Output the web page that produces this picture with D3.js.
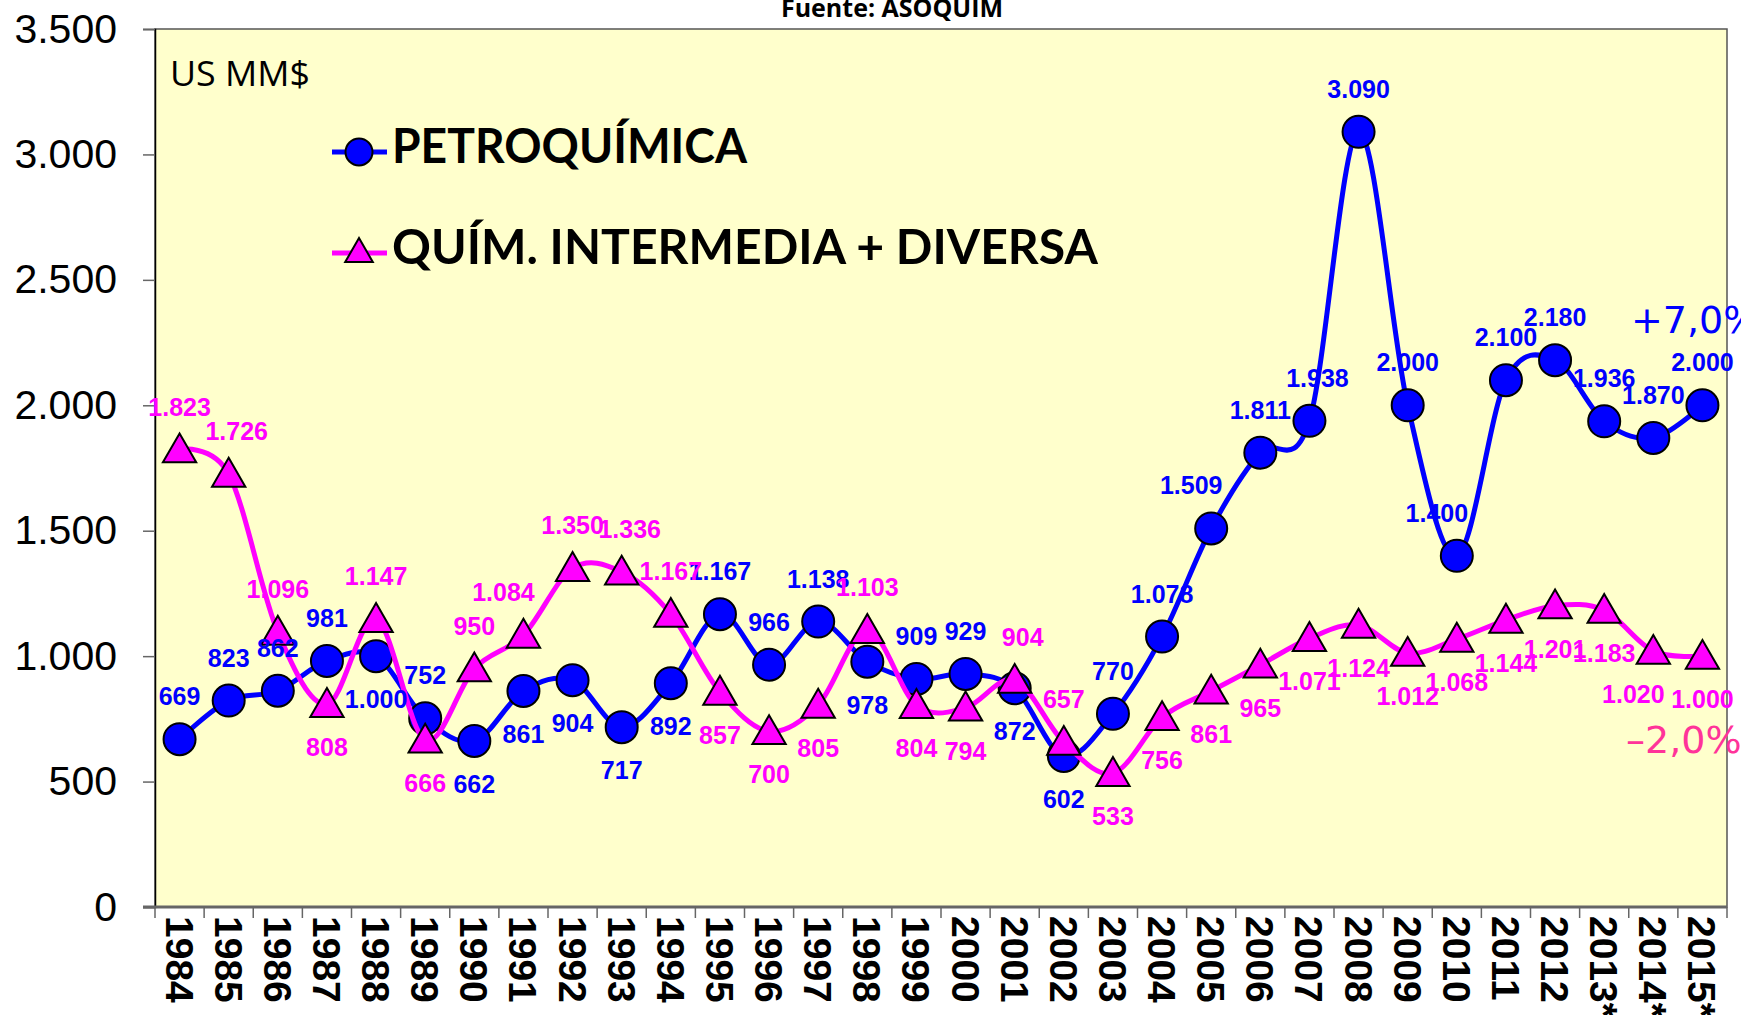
<!DOCTYPE html>
<html>
<head>
<meta charset="utf-8">
<script src="https://cdn.jsdelivr.net/npm/d3@7"></script>
<style>
  body { margin: 0; background: #fff; }
</style>
</head>
<body>
<div id="chart"></div>
<script>
// data
const years = ["1984", "1985", "1986", "1987", "1988", "1989", "1990", "1991", "1992", "1993",
  "1994", "1995", "1996", "1997", "1998", "1999", "2000", "2001", "2002", "2003", "2004",
  "2005", "2006", "2007", "2008", "2009", "2010", "2011", "2012", "2013*", "2014*", "2015*"];
const petroquimica = [669, 823, 862, 981, 1000, 752, 662, 861, 904, 717, 892, 1167, 966, 1138,
  978, 909, 929, 872, 602, 770, 1078, 1509, 1811, 1938, 3090, 2000, 1400, 2100, 2180, 1936, 1870, 2000];
const quimIntermedia = [1823, 1726, 1096, 808, 1147, 666, 950, 1084, 1350, 1336, 1167, 857, 700,
  805, 1103, 804, 794, 904, 657, 533, 756, 861, 965, 1071, 1124, 1012, 1068, 1144, 1201, 1183, 1020, 1000];
const yTicks = [0, 500, 1000, 1500, 2000, 2500, 3000, 3500];
// where each value label sits: a = above, b = below, l/r = nudged
const petroLabelPos = ["a", "a", "a", "a", "b", "a", "b", "b", "b", "b", "b", "a", "a", "a", "b", "a",
  "a", "b", "b", "a", "a", "al", "a", "ar", "a", "a", "al", "a", "a", "a", "a", "a"];
const quimLabelPos = ["a", "ar", "a", "b", "a", "b", "a", "al", "a", "ar", "a", "b", "b", "b", "a", "b",
  "b", "ar", "a", "b", "b", "b", "b", "b", "b", "b", "b", "b", "b", "b", "bl", "b"];

const W = 1741, H = 1015;
const margin = { top: 29, right: 14, bottom: 108, left: 155 };
const width = W - margin.left - margin.right,
  height = H - margin.top - margin.bottom;

const fmt = d3.formatLocale({ decimal: ",", thousands: ".", grouping: [3], currency: ["$", ""] }).format(",d");

const svg = d3.select("#chart").append("svg")
  .attr("width", W).attr("height", H)
  .append("g")
  .attr("transform", `translate(${margin.left}, ${margin.top})`);

const x = d3.scaleBand().domain(years).range([0, width]);
const y = d3.scaleLinear().domain([0, 3500]).range([height, 0]);
const cx = (d) => x(d) + x.bandwidth() / 2;

// plot background + border
svg.append("rect")
  .attr("width", width).attr("height", height)
  .attr("fill", "#ffffcc")
  .attr("stroke", "#555").attr("stroke-width", 1.5);

// source (cut at the top)
svg.append("text")
  .attr("x", 892 - margin.left).attr("y", 17 - margin.top)
  .attr("text-anchor", "middle")
  .style("font-family", "'Open Sans', sans-serif")
  .style("font-weight", "bold").style("font-size", "25px")
  .text("Fuente: ASOQUIM");

// Y axis
const yAxis = svg.append("g")
  .call(d3.axisLeft(y).tickValues(yTicks).tickFormat(fmt).tickSize(12).tickPadding(26));
yAxis.select(".domain").attr("stroke", "#000").attr("stroke-width", 1.5);
yAxis.selectAll(".tick line").attr("stroke", "#666").attr("stroke-width", 1.5);
yAxis.selectAll("text")
  .style("font-family", "'Liberation Sans', Arial, sans-serif")
  .style("font-size", "41px").attr("fill", "#000");

// X axis, ticks on the band edges
const xAxis = svg.append("g")
  .attr("transform", `translate(0, ${height})`)
  .call(d3.axisBottom(x).tickSize(0).tickPadding(0));
xAxis.select(".domain").remove();
xAxis.append("line")
  .attr("x1", -12).attr("x2", width)
  .attr("stroke", "#666").attr("stroke-width", 3);
xAxis.selectAll(".edge")
  .data(d3.range(years.length + 1))
  .join("line")
  .attr("class", "edge")
  .attr("x1", (i) => i * x.step()).attr("x2", (i) => i * x.step())
  .attr("y1", 0).attr("y2", 11)
  .attr("stroke", "#666").attr("stroke-width", 1.5);
xAxis.selectAll(".tick text")
  .attr("transform", "translate(0, 9) rotate(90)")
  .attr("x", 0).attr("y", 0).attr("dy", "0.36em")
  .style("text-anchor", "start")
  .style("font-family", "'Liberation Sans', Arial, sans-serif")
  .style("font-weight", "bold").style("font-size", "39px")
  .attr("fill", "#000");

// unit label
svg.append("text")
  .attr("x", 170 - margin.left).attr("y", 86 - margin.top)
  .style("font-family", "'Open Sans', sans-serif")
  .style("font-size", "35px")
  .attr("textLength", 140).attr("lengthAdjust", "spacingAndGlyphs")
  .text("US MM$");

const tri = d3.symbol().type(d3.symbolTriangle).size(480);
const line = d3.line()
  .x((d, i) => cx(years[i]))
  .y((d) => y(d))
  .curve(d3.curveCatmullRom.alpha(0));

function drawSeries(values, color, shape) {
  svg.append("path")
    .datum(values)
    .attr("d", line)
    .attr("fill", "none")
    .attr("stroke", color)
    .attr("stroke-width", 5);
  if (shape === "circle") {
    svg.selectAll(null)
      .data(values)
      .join("circle")
      .attr("cx", (d, i) => cx(years[i]))
      .attr("cy", (d) => y(d))
      .attr("r", 16)
      .attr("fill", color)
      .attr("stroke", "#000").attr("stroke-width", 2);
  } else {
    svg.selectAll(null)
      .data(values)
      .join("path")
      .attr("d", tri)
      .attr("transform", (d, i) => `translate(${cx(years[i])}, ${y(d) + 3})`)
      .attr("fill", color)
      .attr("stroke", "#000").attr("stroke-width", 2);
  }
}

function drawLabels(values, pos, color) {
  svg.selectAll(null)
    .data(values)
    .join("text")
    .attr("x", (d, i) => cx(years[i]) + (pos[i].includes("l") ? -20 : pos[i].includes("r") ? 8 : 0))
    .attr("y", (d, i) => y(d) + (pos[i][0] === "a" ? -34 : 52))
    .attr("text-anchor", "middle")
    .style("font-family", "'Liberation Sans', Arial, sans-serif")
    .style("font-weight", "bold").style("font-size", "25px")
    .attr("fill", color)
    .text((d) => fmt(d));
}

drawSeries(petroquimica, "#0000ff", "circle");
drawSeries(quimIntermedia, "#ff00ff", "triangle");
drawLabels(petroquimica, petroLabelPos, "#0000ff");
drawLabels(quimIntermedia, quimLabelPos, "#ff00ff");

// legend
const legend = [
  { name: "PETROQUÍMICA", color: "#0000ff", shape: "circle", y: 152, len: 355 },
  { name: "QUÍM. INTERMEDIA + DIVERSA", color: "#ff00ff", shape: "triangle", y: 253, len: 706 }
];
legend.forEach((l) => {
  const g = svg.append("g").attr("transform", `translate(${359 - margin.left}, ${l.y - margin.top})`);
  g.append("line").attr("x1", -27).attr("x2", 28).attr("stroke", l.color).attr("stroke-width", 5);
  if (l.shape === "circle") {
    g.append("circle").attr("r", 13.5).attr("fill", l.color).attr("stroke", "#000").attr("stroke-width", 2);
  } else {
    g.append("path").attr("d", d3.symbol().type(d3.symbolTriangle).size(330))
      .attr("transform", "translate(0, 1)")
      .attr("fill", l.color).attr("stroke", "#000").attr("stroke-width", 2);
  }
  g.append("text")
    .attr("x", 33).attr("y", 11)
    .style("font-family", "Lato, sans-serif")
    .style("font-weight", "bold").style("font-size", "48px")
    .attr("textLength", l.len).attr("lengthAdjust", "spacingAndGlyphs")
    .text(l.name);
});

// change labels at the right edge
svg.append("text")
  .attr("x", 1631 - margin.left).attr("y", 333 - margin.top)
  .style("font-family", "'DejaVu Sans', sans-serif")
  .style("font-size", "38px")
  .attr("fill", "#0000ff")
  .text("+7,0%");
svg.append("text")
  .attr("x", 1626 - margin.left).attr("y", 753 - margin.top)
  .style("font-family", "'DejaVu Sans', sans-serif")
  .style("font-size", "38px")
  .attr("fill", "#ff3399")
  .text("\u20132,0%");
</script>
</body>
</html>
